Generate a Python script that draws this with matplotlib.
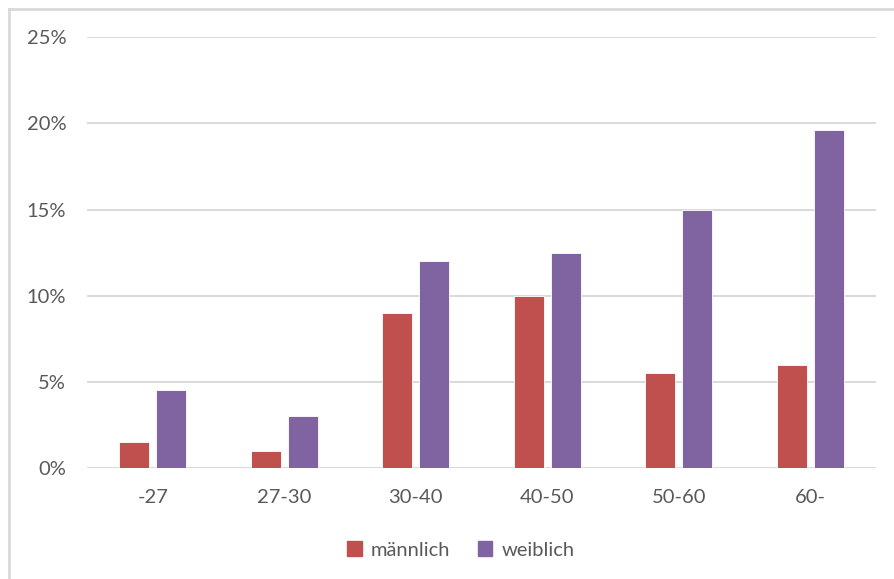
import matplotlib.pyplot as plt
import numpy as np
from matplotlib.lines import Line2D
from matplotlib.patches import Patch
from matplotlib.ticker import FuncFormatter

plt.rcParams['font.family'] = ['Lato', 'DejaVu Sans']

categories = ['-27', '27-30', '30-40', '40-50', '50-60', '60-']
maennlich = [0.015, 0.010, 0.090, 0.100, 0.055, 0.060]
weiblich = [0.045, 0.030, 0.120, 0.125, 0.150, 0.196]

red = '#C0504D'
purple = '#8064A2'
grey_text = '#595959'
grid_col = '#D9D9D9'

W, H = 894, 579
fig = plt.figure(figsize=(W / 100, H / 100), dpi=100)

# plot area in pixels
left, right, top, bottom = 87, 876, 37.3, 468
ax = fig.add_axes([left / W, 1 - bottom / H, (right - left) / W, (bottom - top) / H])

x = np.arange(len(categories))
bw = 0.228
off = 0.142
ax.bar(x - off, maennlich, bw, color=red, edgecolor='white', linewidth=0.6, zorder=3)
ax.bar(x + off, weiblich, bw, color=purple, edgecolor='white', linewidth=0.6, zorder=3)

ax.set_xlim(-0.5, len(categories) - 0.5)
ax.set_ylim(0, 0.25)
ax.set_yticks(np.arange(0, 0.26, 0.05))
ax.yaxis.set_major_formatter(FuncFormatter(lambda v, p: f'{v * 100:.0f}%'))
ax.set_xticks(x)
ax.set_xticklabels(categories)
ax.grid(axis='y', color=grid_col, linewidth=1.4, zorder=0)
for s in ax.spines.values():
    s.set_visible(False)
ax.tick_params(length=0, labelsize=14.5, colors=grey_text)
ax.tick_params(axis='y', pad=15)
ax.tick_params(axis='x', pad=15)

# legend
handles = [Patch(color=red, label='männlich'), Patch(color=purple, label='weiblich')]
fig.legend(handles=handles, loc='center', bbox_to_anchor=(461 / W, 1 - 550 / H),
           ncol=2, frameon=False, fontsize=14.5, labelcolor=grey_text,
           handlelength=0.7, handleheight=0.7, handletextpad=0.45, columnspacing=1.4)

# chart frame (top and left edges)
fig.add_artist(Line2D([9 / W, 1], [1 - 9 / H, 1 - 9 / H], color=grid_col, linewidth=2))
fig.add_artist(Line2D([9 / W, 9 / W], [0, 1 - 9 / H], color=grid_col, linewidth=2))

fig.savefig('out.png', dpi=100, facecolor='white')
